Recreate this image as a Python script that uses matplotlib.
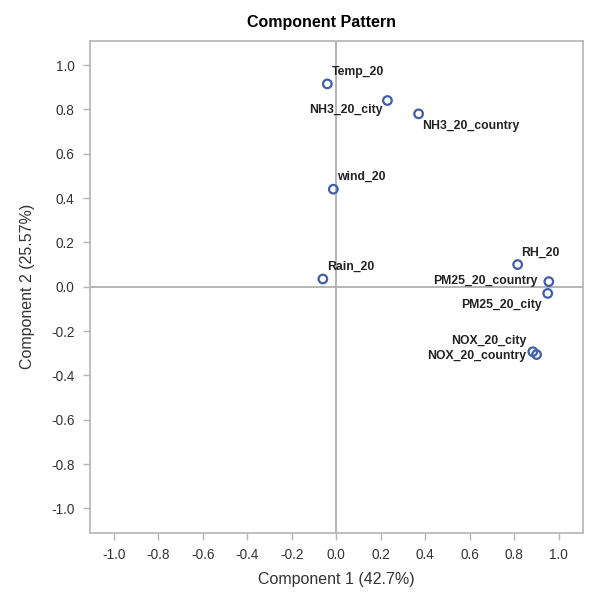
import matplotlib
matplotlib.use("Agg")
import matplotlib.pyplot as plt

# Component loadings
variables = ["Temp_20", "NH3_20_city", "NH3_20_country", "wind_20", "Rain_20",
             "RH_20", "PM25_20_country", "PM25_20_city", "NOX_20_city", "NOX_20_country"]
comp1 = [-0.04, 0.23, 0.37, -0.013, -0.06, 0.815, 0.955, 0.95, 0.883, 0.90]
comp2 = [0.915, 0.84, 0.78, 0.44, 0.035, 0.10, 0.023, -0.03, -0.293, -0.306]
ticks = [-1.0, -0.8, -0.6, -0.4, -0.2, 0.0, 0.2, 0.4, 0.6, 0.8, 1.0]

# label placement (offset in pixels, alignment)
label_pos = {
    "Temp_20": ((5, 12), "left", "center"),
    "NH3_20_city": ((-5, -9), "right", "center"),
    "NH3_20_country": ((4, -12), "left", "center"),
    "wind_20": ((4, 12), "left", "center"),
    "Rain_20": ((4, 12), "left", "center"),
    "RH_20": ((3, 12), "left", "center"),
    "PM25_20_country": ((-11, 1), "right", "center"),
    "PM25_20_city": ((-6, -12), "right", "center"),
    "NOX_20_city": ((-6, 11), "right", "center"),
    "NOX_20_country": ((-10, -1), "right", "center"),
}

plt.rcParams["font.family"] = ["Liberation Sans", "DejaVu Sans"]

fig = plt.figure(figsize=(5.96, 5.98), dpi=100)
ax = fig.add_axes([0.151, 0.109, 0.827, 0.823])

frame_color = "#b4b4b4"
ax.axhline(0, color="#a8a8a8", linewidth=1.2, zorder=1)
ax.axvline(0, color="#a8a8a8", linewidth=1.2, zorder=1)

ax.scatter(comp1, comp2, s=38, facecolors="none", edgecolors="#3f5fa8",
           linewidths=1.6, zorder=3)

for name, x, y in zip(variables, comp1, comp2):
    off, ha, va = label_pos[name]
    ax.annotate(name, (x, y), xytext=off, textcoords="offset pixels",
                ha=ha, va=va, fontsize=8.8, fontweight="bold", color="#222222")

ax.set_xlim(-1.106, 1.108)
ax.set_ylim(-1.11, 1.11)
ax.set_xticks(ticks)
ax.set_yticks(ticks)
ax.set_xticklabels([f"{t:.1f}" for t in ticks])
ax.set_yticklabels([f"{t:.1f}" for t in ticks])
ax.tick_params(direction="out", length=5, width=1, color=frame_color,
               labelsize=9.8, labelcolor="#333333", pad=6)

for spine in ax.spines.values():
    spine.set_color(frame_color)
    spine.set_linewidth(1.2)

ax.set_xlabel("Component 1 (42.7%)", fontsize=11.5, color="#333333", labelpad=7)
ax.set_ylabel("Component 2 (25.57%)", fontsize=11.5, color="#333333", labelpad=12)
fig.suptitle("Component Pattern", x=0.54, y=0.975, fontsize=11.5, fontweight="bold")

fig.savefig("out.png", dpi=100)
